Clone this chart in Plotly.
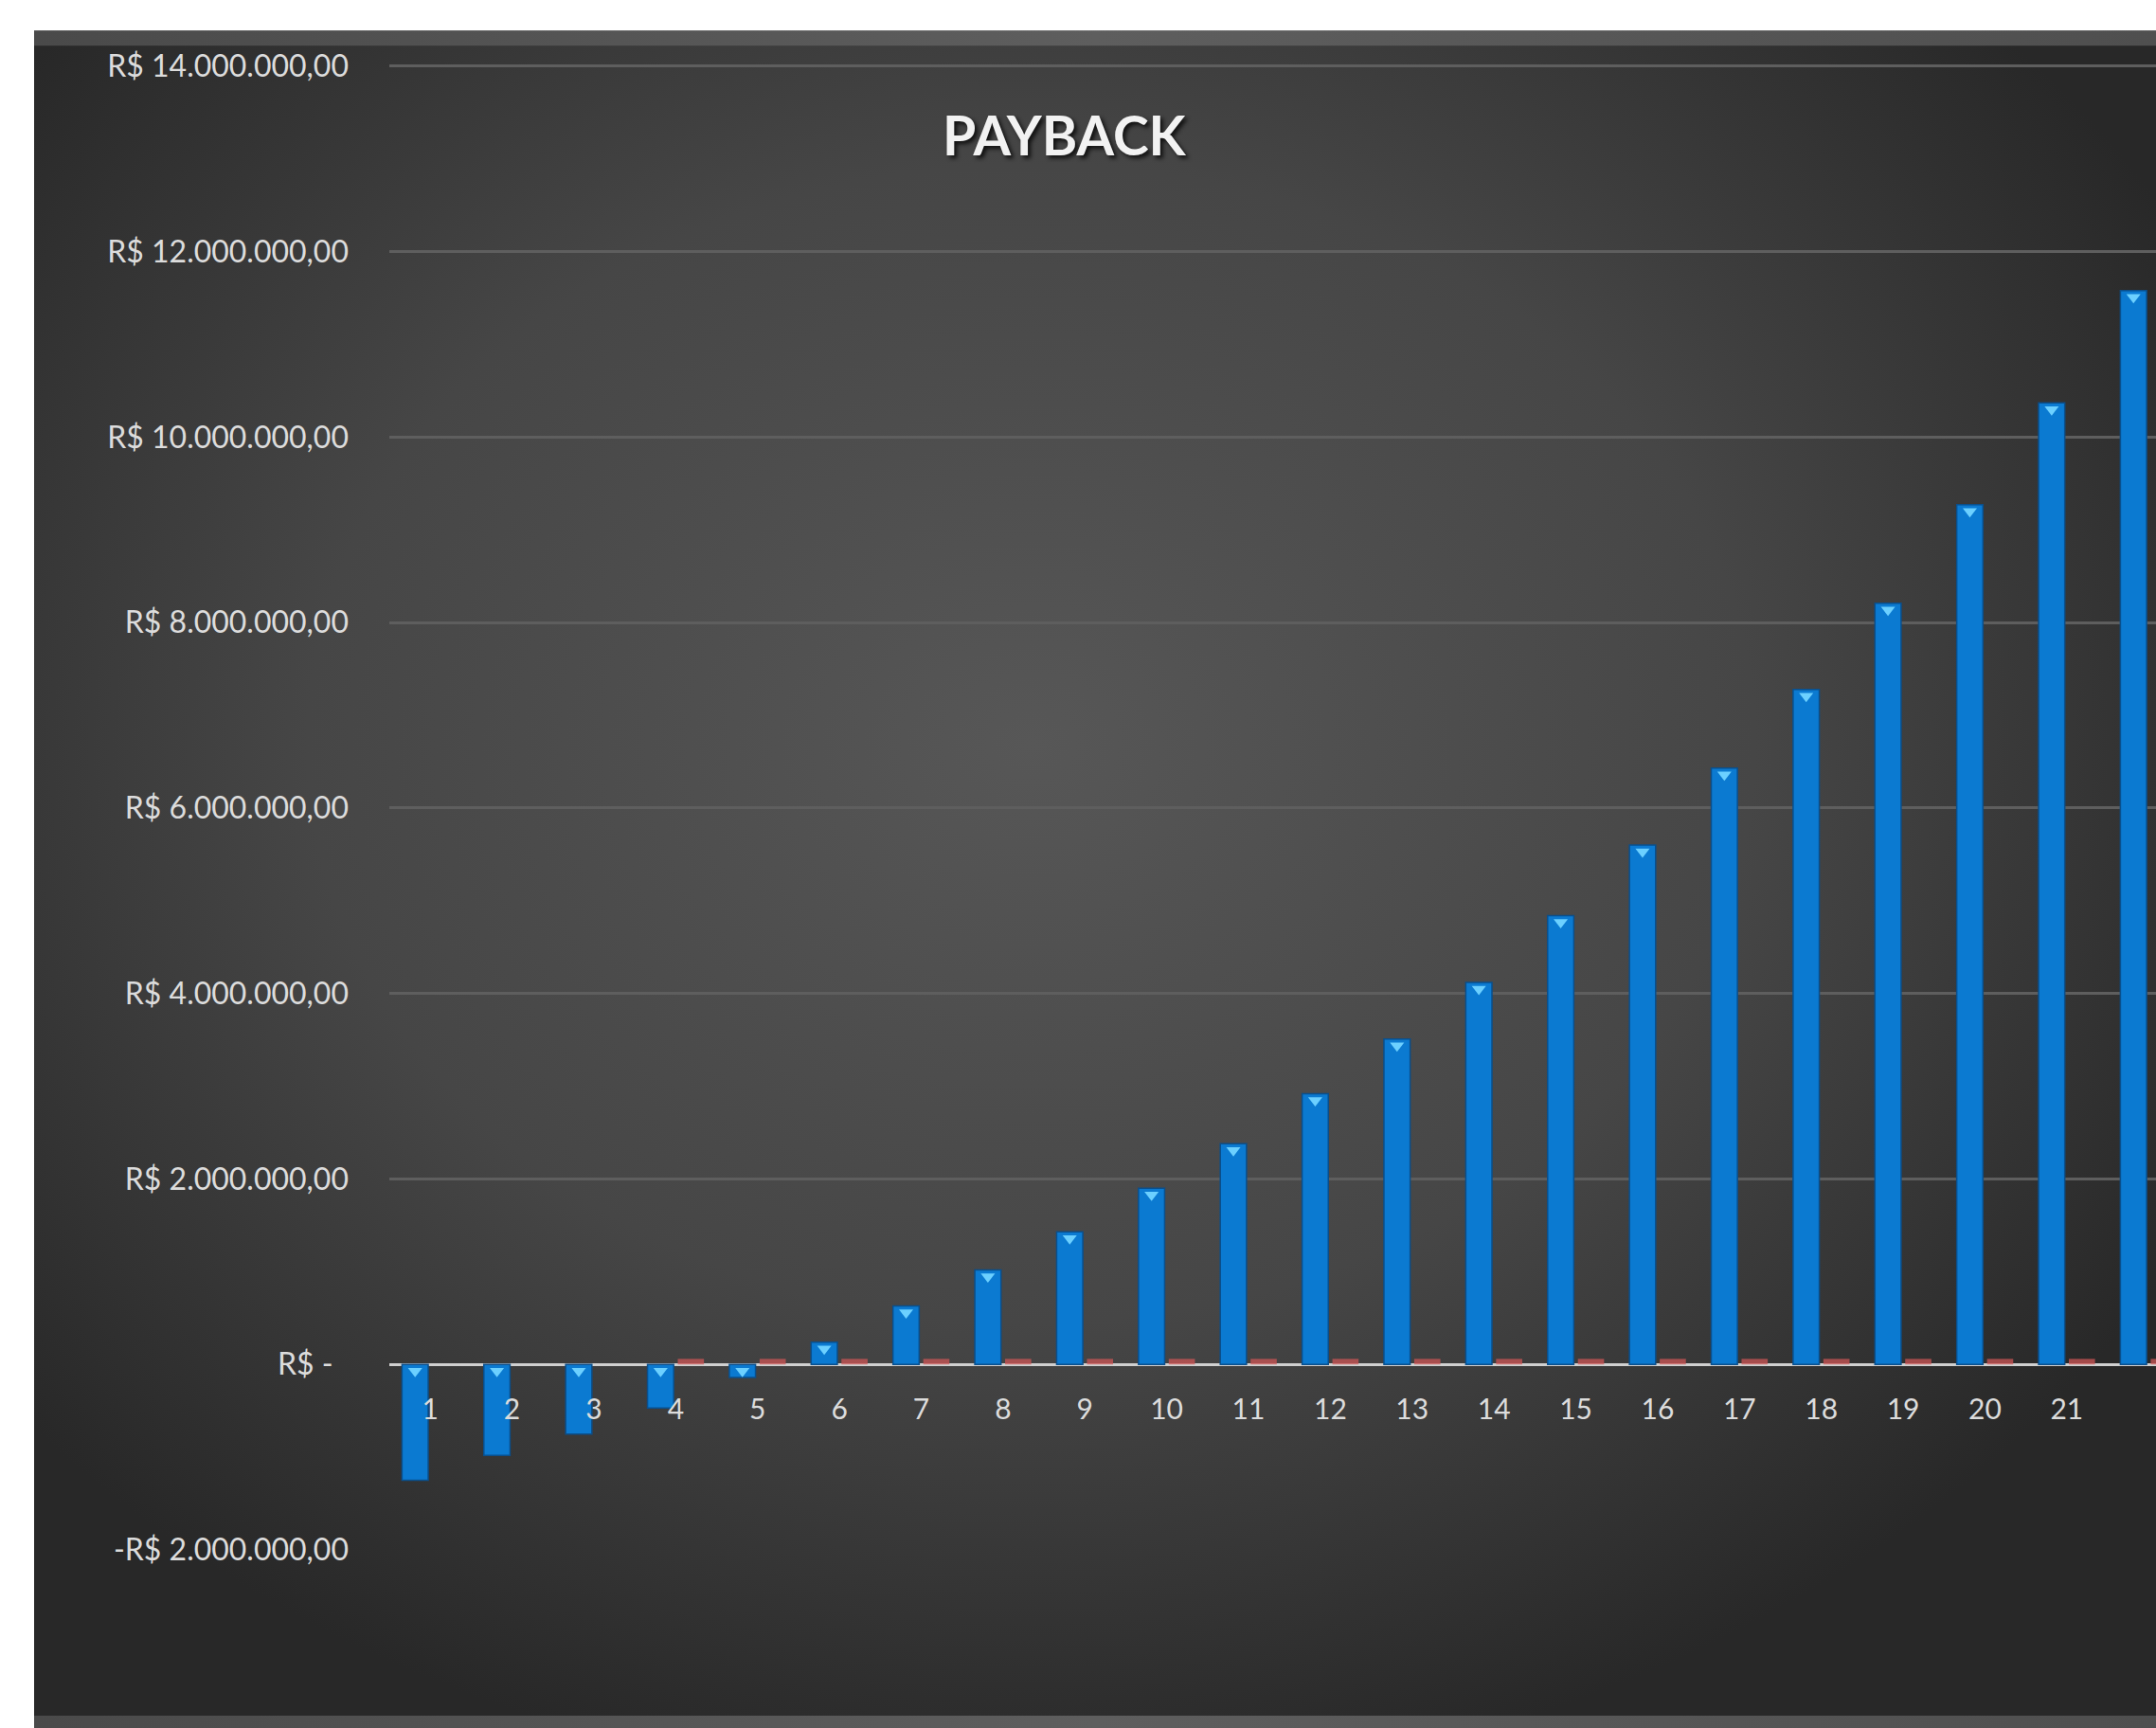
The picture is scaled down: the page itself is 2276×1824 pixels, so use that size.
import base64
import plotly.graph_objects as go

# ---------------- data ----------------
periods = list(range(1, 23))
payback = [-1250000, -980000, -750000, -470000, -140000, 240000, 630000, 1020000,
           1430000, 1900000, 2380000, 2920000, 3510000, 4120000, 4840000, 5600000,
           6430000, 7280000, 8210000, 9270000, 10370000, 11580000]
second_series = [0, 0, 0, 60000, 60000, 60000, 60000, 60000, 60000, 60000, 60000,
                 60000, 60000, 60000, 60000, 60000, 60000, 60000, 60000, 60000, 60000, 60000]
y_ticks = [-2000000, 0, 2000000, 4000000, 6000000, 8000000, 10000000, 12000000, 14000000]
title_text = "PAYBACK"


def brl(v):
    if v == 0:
        return "R$ -  "
    s = f"{abs(v):,.2f}".replace(",", "X").replace(".", ",").replace("X", ".")
    return ("-" if v < 0 else "") + "R$ " + s


# ---------------- geometry ----------------
W, H = 2276, 1824
ml = 411
mr = 0
y_lo, y_hi = -2000000, 14050000
px_top_grid = 69.7            # 14M gridline
px_bot = 1636                 # -2M gridline (plot bottom)
px_per_unit = (px_bot - px_top_grid) / (14000000 - y_lo)
plot_h = (y_hi - y_lo) * px_per_unit
mt = px_bot - plot_h
mb = H - px_bot
units_per_px = 1 / px_per_unit
x_range = [0.5, 22.09]

bar_w = 0.32
blue_off = -0.185
red_off = 0.185

fig = go.Figure()

# background panel (gradient) as SVG image
panel_x, panel_y = 36, 32
pw, ph = W - panel_x, H - panel_y
svg = f'''<svg xmlns="http://www.w3.org/2000/svg" width="{pw}" height="{ph}" viewBox="0 0 {pw} {ph}">
<defs>
<radialGradient id="g" cx="0.47" cy="0.42" r="0.62" gradientUnits="objectBoundingBox">
<stop offset="0" stop-color="#575757"/>
<stop offset="0.55" stop-color="#464646"/>
<stop offset="1" stop-color="#282828"/>
</radialGradient>
<linearGradient id="t" x1="0" y1="0" x2="1" y2="0">
<stop offset="0" stop-color="#4a4a4a"/>
<stop offset="0.5" stop-color="#5e5e5e"/>
<stop offset="1" stop-color="#4f4f4f"/>
</linearGradient>
</defs>
<rect x="0" y="0" width="{pw}" height="{ph}" fill="url(#g)"/>
<rect x="0" y="0" width="{pw}" height="16" fill="url(#t)"/>
<rect x="0" y="{ph-13}" width="{pw}" height="13" fill="url(#t)"/>
</svg>'''
src = "data:image/svg+xml;base64," + base64.b64encode(svg.encode()).decode()

plot_w = W - ml - mr
fig.add_layout_image(dict(source=src, xref="paper", yref="paper",
                          x=(panel_x - ml) / plot_w, y=(px_bot - panel_y) / plot_h,
                          sizex=pw / plot_w, sizey=ph / plot_h,
                          xanchor="left", yanchor="top", sizing="stretch", layer="below"))

fig.add_trace(go.Bar(
    x=periods, y=payback, width=bar_w, offset=blue_off - bar_w / 2,
    marker=dict(color="#0b7ad1", line=dict(color="#0a4f8c", width=1.5)),
    name="Payback", hoverinfo="x+y",
))
fig.add_trace(go.Bar(
    x=periods, y=second_series, width=bar_w, offset=red_off - bar_w / 2,
    marker=dict(color="rgba(205,85,85,0.75)", line=dict(width=0)),
    name="Série 2",
))
# light caps at bar tops
cap_x = [p + blue_off for p in periods]
cap_y = [max(v, 0) - 7 * units_per_px for v in payback]
fig.add_trace(go.Scatter(
    x=cap_x, y=cap_y, mode="markers",
    marker=dict(symbol="triangle-down", size=13, color="#6cd0ff", line=dict(width=0)),
    hoverinfo="skip", showlegend=False,
))

title_x, title_y = 1124, 142
fig.update_layout(
    width=W, height=H,
    margin=dict(l=ml, r=mr, t=mt, b=mb, pad=0),
    paper_bgcolor="white",
    plot_bgcolor="rgba(0,0,0,0)",
    barmode="overlay",
    showlegend=False,
    font=dict(family="Lato, Open Sans, sans-serif", color="#dcdcdc"),
    annotations=[dict(
        text=f"<b>{title_text}</b>", xref="paper", yref="paper",
        x=(title_x - ml) / plot_w, y=(px_bot - title_y) / plot_h,
        xanchor="center", yanchor="middle", showarrow=False,
        font=dict(family="Lato, Open Sans, sans-serif", size=57, color="#f2f2f2",
                  shadow="3px 3px 4px #111"),
    )],
)

fig.update_yaxes(
    range=[y_lo, y_hi], tickvals=y_ticks, ticktext=[brl(v) for v in y_ticks],
    showgrid=True, gridcolor="#5e5e5e", gridwidth=3,
    zeroline=True, zerolinecolor="#d0d0d0", zerolinewidth=3,
    showline=False, ticks="", ticklabelstandoff=42,
    tickfont=dict(family="Lato, Open Sans, sans-serif", size=32, color="#dcdcdc"),
)
fig.update_xaxes(
    range=x_range, tickvals=periods, ticktext=[str(p) for p in periods],
    anchor="free", position=(0 - y_lo) / (y_hi - y_lo),
    showgrid=False, zeroline=False, showline=False, ticks="", ticklabelstandoff=27,
    tickfont=dict(family="Lato, Open Sans, sans-serif", size=30, color="#dcdcdc"),
)

page_css = ("document.documentElement.style.margin='0';"
            "document.documentElement.style.overflow='hidden';"
            "document.body.style.margin='0';"
            "document.body.style.overflow='hidden';")
fig.write_html("out.html", post_script=page_css, config={"displayModeBar": False})
